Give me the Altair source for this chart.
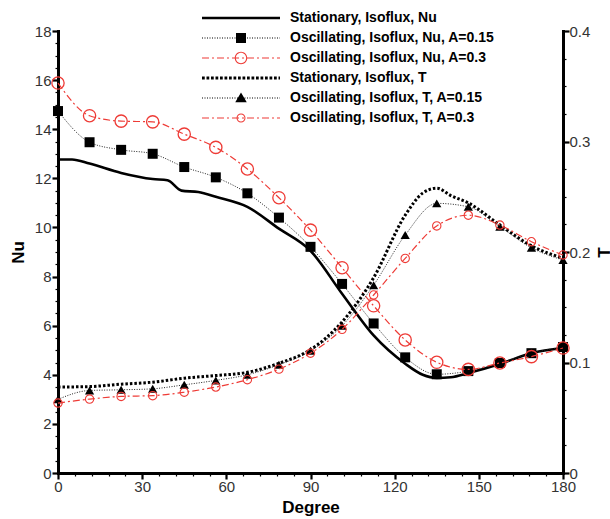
import altair as alt
import pandas as pd

# ---------------- data ----------------
SERIES = [
    "Stationary, Isoflux, Nu",
    "Oscillating, Isoflux, Nu, A=0.15",
    "Oscillating, Isoflux, Nu, A=0.3",
    "Stationary, Isoflux, T",
    "Oscillating, Isoflux, T, A=0.15",
    "Oscillating, Isoflux, T, A=0.3",
]

deg_markers = [0, 11.25, 22.5, 33.75, 45, 56.25, 67.5, 78.75, 90,
               101.25, 112.5, 123.75, 135, 146.25, 157.5, 168.75, 180]

stat_nu_deg = [0, 5, 11.25, 22.5, 33.75, 39, 44, 50, 56.25, 67.5, 78.75, 90,
               101.25, 112.5, 123.75, 130, 135, 140, 146.25, 157.5, 168.75, 180]
stat_nu = [12.77, 12.77, 12.6, 12.22, 11.97, 11.92, 11.5, 11.44, 11.25, 10.84, 9.95, 9.05,
           7.3, 5.6, 4.45, 4.0, 3.87, 3.9, 4.07, 4.44, 4.88, 5.09]

osc_nu_015 = [14.74, 13.47, 13.16, 13.0, 12.46, 12.04, 11.39, 10.4, 9.21,
              7.7, 6.09, 4.71, 4.02, 4.15, 4.48, 4.88, 5.13]
osc_nu_03 = [15.88, 14.55, 14.33, 14.3, 13.8, 13.26, 12.38, 11.21, 9.89,
             8.36, 6.81, 5.42, 4.51, 4.22, 4.48, 4.74, 5.09]

stat_t_deg = [0, 11.25, 22.5, 33.75, 45, 56.25, 67.5, 78.75, 90,
              101.25, 112.5, 123.75, 130, 135, 140, 146.25, 157.5, 168.75, 180]
stat_t = [0.0778, 0.0782, 0.0804, 0.0822, 0.0858, 0.0882, 0.0911, 0.0993, 0.1116,
          0.1367, 0.1767, 0.2333, 0.2533, 0.2578, 0.2511, 0.2444, 0.2244, 0.2056, 0.1944]
osc_t_015 = [0.0667, 0.0747, 0.0753, 0.0762, 0.0798, 0.0838, 0.0889, 0.098, 0.1107,
             0.1333, 0.17, 0.2153, 0.244, 0.2409, 0.2229, 0.2038, 0.1927]
osc_t_03 = [0.0633, 0.0669, 0.0693, 0.07, 0.0731, 0.0778, 0.0844, 0.094, 0.1084,
            0.13, 0.1611, 0.1942, 0.2236, 0.2333, 0.2244, 0.2093, 0.1973]

# axis ticks: every value gets a tick, only the majors get a label
x_ticks = list(range(0, 181, 6))            # majors every 30
nu_ticks = [i * 0.5 for i in range(37)]      # majors every 2
t_ticks = [round(i * 0.025, 3) for i in range(17)]  # majors every 0.1

# ---------------- long table ----------------
rows = []
for d, v in zip(stat_nu_deg, stat_nu):
    rows.append((SERIES[0], d, v))
for d, v in zip(deg_markers, osc_nu_015):
    rows.append((SERIES[1], d, v))
for d, v in zip(deg_markers, osc_nu_03):
    rows.append((SERIES[2], d, v))
for d, v in zip(stat_t_deg, stat_t):
    rows.append((SERIES[3], d, v))
for d, v in zip(deg_markers, osc_t_015):
    rows.append((SERIES[4], d, v))
for d, v in zip(deg_markers, osc_t_03):
    rows.append((SERIES[5], d, v))
df = pd.DataFrame(rows, columns=["series", "deg", "val"])

RED = "#ee3b36"
BLACK = "#000000"
FONT = "Liberation Sans"
W, H = 505, 442

# ---------------- legend symbols (line + marker as custom paths) ----------------
L = 7.8  # half length in symbol units (1 unit = 5 px with symbolSize 100)


def line_path(pattern, half_h):
    parts = []
    x = -L
    i = 0
    while x < L - 1e-9:
        on, off = pattern[i % len(pattern)]
        x1 = min(x + on, L)
        parts.append(f"M{x:.3f},{-half_h:.3f}H{x1:.3f}V{half_h:.3f}H{x:.3f}Z")
        x = x1 + off
        i += 1
    return "".join(parts)


def ring(ro, ri):
    return (f"M{ro},0A{ro},{ro} 0 1,1 {-ro},0A{ro},{ro} 0 1,1 {ro},0Z"
            f"M{ri},0A{ri},{ri} 0 1,0 {-ri},0A{ri},{ri} 0 1,0 {ri},0Z")


dotted = [(0.2, 0.3)]
dashdot = [(1.4, 0.6), (0.4, 0.6)]
thickdot = [(0.55, 0.35)]
paths = [
    line_path([(2 * L, 0)], 0.27),
    line_path(dotted, 0.1) + "M-1,-1H1V1H-1Z",
    line_path(dashdot, 0.12) + ring(1.25, 1.03),
    line_path(thickdot, 0.3),
    line_path(dotted, 0.1) + "M0,-1.1L1.15,0.85L-1.15,0.85Z",
    line_path(dashdot, 0.12) + ring(0.9, 0.7),
]
fills = [BLACK, BLACK, RED, BLACK, BLACK, RED]

# ---------------- scales / axes ----------------
XS = alt.Scale(domain=[0, 180], nice=False, zero=False)
NUS = alt.Scale(domain=[0, 18], nice=False, zero=False)
TS = alt.Scale(domain=[0, 0.4], nice=False, zero=False)

X_MAJ = "datum.value % 30 === 0"
NU_MAJ = "datum.value % 2 === 0"
T_MAJ = "abs(datum.value*10 - round(datum.value*10)) < 1e-6"


def ax(orient, values, major, label_expr, title, label_padding, **kw):
    return alt.Axis(orient=orient, values=values, ticks=True, tickSize=6, tickColor="black",
                    tickWidth={"condition": {"test": major, "value": 2.2}, "value": 1.2},
                    tickDash={"condition": {"test": major, "value": [6, 0]}, "value": [3, 20]},
                    labelExpr=label_expr,
                    domain=True, domainWidth=3, domainColor="black", domainCap="square",
                    labelFont=FONT, labelFontSize=15, labelColor="#333", labelPadding=label_padding,
                    labelFlush=False, labelOverlap=False, grid=False, title=title, titleFont=FONT,
                    titleFontSize=17, titleFontWeight="bold", titleColor="black", **kw)


x_axis = ax("bottom", x_ticks, X_MAJ, f"{X_MAJ} ? format(datum.value, 'd') : ''", "Degree", 0,
            titlePadding=5)
nu_axis = ax("left", nu_ticks, NU_MAJ, f"{NU_MAJ} ? format(datum.value, 'd') : ''", "Nu", 1,
             titlePadding=7)
t_axis = ax("right", t_ticks, T_MAJ,
            f"{T_MAJ} ? (datum.value == 0 ? '0' : format(datum.value, '.1f')) : ''", "T", 0,
            titleAngle=270, titleX=50, titleY=H / 2)

base = alt.Chart(df)


def sel(i):
    return base.transform_filter(alt.datum.series == SERIES[i])


def xenc():
    return alt.X("deg:Q", scale=XS, axis=x_axis)


def yenc(scale, axis):
    return alt.Y("val:Q", scale=scale, axis=axis)


legend = alt.Legend(title=None, orient="none", legendX=137, legendY=-20,
                    symbolSize=100, symbolStrokeWidth=0, symbolOpacity=1,
                    symbolOffset=39, labelOffset=42, rowPadding=6, padding=0,
                    labelFont=FONT, labelFontSize=14, labelFontWeight="bold",
                    labelColor="black", labelLimit=400)

# ---- Nu group ----
nu_layers = [
    sel(0).mark_line(color=BLACK, strokeWidth=2.6, interpolate="monotone").encode(
        x=xenc(), y=yenc(NUS, nu_axis)),
    sel(1).mark_line(color="#222", strokeWidth=1, strokeDash=[1, 1.5], interpolate="monotone").encode(
        x=xenc(), y=yenc(NUS, nu_axis)),
    sel(1).mark_point(shape="square", filled=True, size=100, color=BLACK, opacity=1).encode(
        x=xenc(), y=yenc(NUS, nu_axis)),
    sel(2).mark_line(color=RED, strokeWidth=1.2, strokeDash=[7, 3, 2, 3], interpolate="monotone").encode(
        x=xenc(), y=yenc(NUS, nu_axis)),
    sel(2).mark_point(shape="circle", filled=False, size=150, color=RED, strokeWidth=1.3, opacity=1).encode(
        x=xenc(), y=yenc(NUS, nu_axis)),
    base.mark_point(filled=True, opacity=0).encode(
        x=xenc(), y=yenc(NUS, nu_axis),
        color=alt.Color("series:N", scale=alt.Scale(domain=SERIES, range=fills), legend=legend),
        shape=alt.Shape("series:N", scale=alt.Scale(domain=SERIES, range=paths), legend=legend),
    ),
]
nu_group = alt.layer(*nu_layers)

# ---- T group ----
t_layers = [
    sel(3).mark_line(color=BLACK, strokeWidth=3, strokeDash=[2.5, 2], interpolate="monotone").encode(
        x=xenc(), y=yenc(TS, t_axis)),
    sel(4).mark_line(color="#222", strokeWidth=1, strokeDash=[1, 1.5], interpolate="monotone").encode(
        x=xenc(), y=yenc(TS, t_axis)),
    sel(4).mark_point(shape="triangle-up", filled=True, size=85, color=BLACK, opacity=1).encode(
        x=xenc(), y=yenc(TS, t_axis)),
    sel(5).mark_line(color=RED, strokeWidth=1.2, strokeDash=[7, 3, 2, 3], interpolate="monotone").encode(
        x=xenc(), y=yenc(TS, t_axis)),
    sel(5).mark_point(shape="circle", filled=False, size=70, color=RED, strokeWidth=1.1, opacity=1).encode(
        x=xenc(), y=yenc(TS, t_axis)),
]
t_group = alt.layer(*t_layers)

chart = alt.layer(nu_group, t_group).resolve_scale(y="independent").properties(
    width=W, height=H,
    autosize=alt.AutoSizeParams(type="none"),
    padding={"left": 58, "top": 31, "right": 47, "bottom": 46},
    background="white",
).configure_view(stroke=None)

chart.save("out.html", embed_options={"renderer": "svg", "actions": False})
